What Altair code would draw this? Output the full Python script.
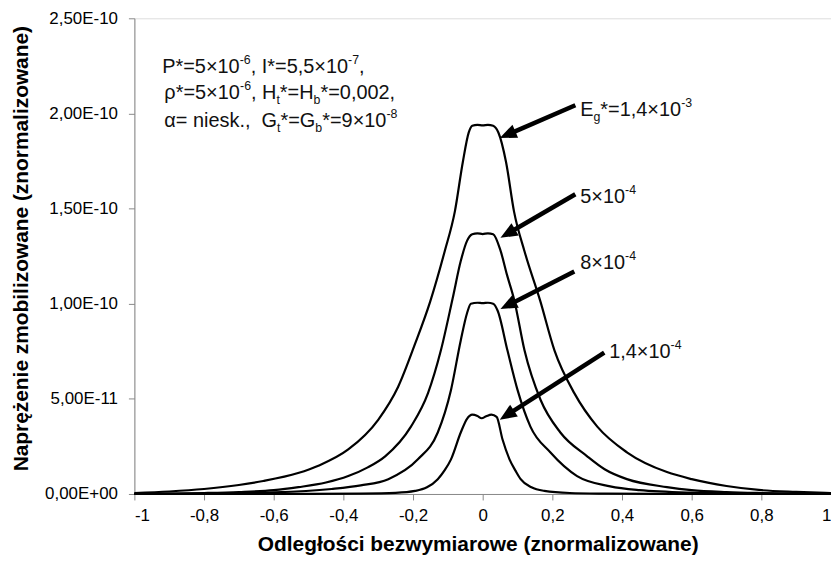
import math
import altair as alt
import pandas as pd

# ------------------------------------------------------------------
# Data (y values in units of 1e-10)
# ------------------------------------------------------------------
UNIT = 1e-10

A_x = [-1.0, -0.9, -0.8, -0.7, -0.63, -0.53, -0.47, -0.386, -0.3, -0.243, -0.194, -0.151,
       -0.109, -0.08, -0.057, -0.04, -0.03, -0.015, 0.0,
       0.015, 0.03, 0.045, 0.067, 0.09, 0.12, 0.165, 0.206, 0.263, 0.329, 0.414, 0.529,
       0.6, 0.7, 0.8, 0.9, 1.0]
A_y = [0.005, 0.013, 0.026, 0.047, 0.068, 0.11, 0.15, 0.234, 0.39, 0.5625, 0.79, 1.01,
       1.276, 1.484, 1.745, 1.90, 1.935, 1.94, 1.937,
       1.94, 1.935, 1.90, 1.745, 1.484, 1.276, 1.016, 0.755, 0.53, 0.354, 0.219, 0.115,
       0.078, 0.042, 0.02, 0.011, 0.005]

B_x = [-1.0, -0.8, -0.7, -0.6, -0.529, -0.45, -0.386, -0.33, -0.28, -0.206, -0.157, -0.12,
       -0.086, -0.063, -0.045, -0.03, -0.015, 0.0, 0.015, 0.03, 0.051, 0.07, 0.091, 0.12,
       0.166, 0.223, 0.3, 0.35, 0.414, 0.529, 0.6, 0.7, 0.8, 1.0]
B_y = [0.001, 0.005, 0.01, 0.02, 0.036, 0.06, 0.094, 0.14, 0.198, 0.354, 0.53, 0.755,
       1.03, 1.224, 1.33, 1.365, 1.37, 1.366, 1.37, 1.365, 1.28, 1.15, 1.016, 0.755,
       0.495, 0.323, 0.198, 0.13, 0.078, 0.036, 0.02, 0.01, 0.005, 0.001]

C_x = [-1.0, -0.8, -0.6, -0.434, -0.35, -0.271, -0.186, -0.129, -0.091, -0.063, -0.045,
       -0.034, -0.015, 0.0, 0.015, 0.03, 0.043, 0.071, 0.1, 0.137, 0.194, 0.271, 0.366,
       0.45, 0.6, 0.8, 1.0]
C_y = [0.0005, 0.002, 0.008, 0.026, 0.045, 0.078, 0.182, 0.323, 0.547, 0.807, 0.95,
       1.0, 1.005, 1.003, 1.005, 1.0, 0.963, 0.755, 0.547, 0.354, 0.219, 0.094, 0.04,
       0.02, 0.007, 0.002, 0.0005]

D_x = [-1.0, -0.5, -0.35, -0.25, -0.194, -0.16, -0.129, -0.109, -0.091, -0.063, -0.045,
       -0.03, -0.015, -0.003, 0.01, 0.025, 0.04, 0.057, 0.077, 0.095, 0.109, 0.14, 0.177,
       0.25, 0.35, 0.5, 1.0]
D_y = [0.0, 0.0005, 0.002, 0.006, 0.016, 0.035, 0.078, 0.125, 0.182, 0.323, 0.395,
       0.417, 0.41, 0.398, 0.408, 0.417, 0.405, 0.286, 0.182, 0.12, 0.078, 0.035, 0.016,
       0.005, 0.002, 0.0005, 0.0]

series_names = ["Eg=1,4e-3", "5e-4", "8e-4", "1,4e-4"]

# arrows (tail -> tip), y in units of 1e-10
arrow_tail_x = [0.266, 0.266, 0.263, 0.349]
arrow_tail_y = [2.043, 1.575, 1.169, 0.743]
arrow_tip_x = [0.049, 0.051, 0.051, 0.049]
arrow_tip_y = [1.871, 1.346, 0.972, 0.390]

# annotation texts: segments (text, kind); kind n=normal, sup, sub, skip=space
label_segments = [
    [("E", "n"), ("g", "sub"), ("*=1,4×10", "n"), ("-3", "sup")],
    [("5×10", "n"), ("-4", "sup")],
    [("8×10", "n"), ("-4", "sup")],
    [("1,4×10", "n"), ("-4", "sup")],
]
label_x = [0.28, 0.28, 0.28, 0.363]
label_y = [1.985, 1.528, 1.18, 0.717]

param_segments = [
    [("P*=5×10", "n"), ("-6", "sup"), (",", "n"), (" ", "skip"), ("I*=5,5×10", "n"),
     ("-7", "sup"), (",", "n")],
    [("ρ*=5×10", "n"), ("-6", "sup"), (",", "n"), (" ", "skip"), ("H", "n"), ("t", "sub"),
     ("*=H", "n"), ("b", "sub"), ("*=0,002,", "n")],
    [("α=", "n"), (" ", "skip"), ("niesk.,", "n"), ("  ", "skip"), ("G", "n"), ("t", "sub"),
     ("*=G", "n"), ("b", "sub"), ("*=9×10", "n"), ("-8", "sup")],
]
param_x = [-0.92, -0.914, -0.914]
param_y = [2.214, 2.074, 1.928]

x_ticks = [-1, -0.8, -0.6, -0.4, -0.2, 0, 0.2, 0.4, 0.6, 0.8, 1]
y_ticks = [0, 5e-11, 1e-10, 1.5e-10, 2e-10, 2.5e-10]

# ------------------------------------------------------------------
# Layout
# ------------------------------------------------------------------
FONT = "Liberation Sans"
PLOT_W, PLOT_H = 700, 478
X_DOM = [-1, 1]
Y_DOM = [0, 2.5e-10]
PX_X = PLOT_W / (X_DOM[1] - X_DOM[0])
PX_Y = PLOT_H / (Y_DOM[1] - Y_DOM[0])
TXT = 20
SMALL = 0.62 * TXT

ARIAL = {' ': 278, '*': 389, '=': 584, '×': 584, ',': 278, '.': 278, '-': 333,
         'P': 667, 'I': 278, 'H': 722, 'G': 778, 'E': 667, 'ρ': 578, 'α': 578,
         'n': 556, 'i': 222, 'e': 556, 's': 500, 'k': 500, 't': 278, 'b': 556, 'g': 556}


def text_w(s, size):
    return sum(ARIAL.get(c, 556) for c in s) / 1000.0 * size


def layout(segments, ax, ay):
    out = []
    off = 0.0
    for text, kind in segments:
        size = TXT if kind in ("n", "skip") else SMALL
        if kind != "skip":
            out.append({"x": ax + off / PX_X, "y": ay * UNIT, "t": text, "kind": kind})
        off += text_w(text, size)
    return out


txt_rows = []
for segs, ax, ay in zip(label_segments + param_segments,
                        label_x + param_x, label_y + param_y):
    txt_rows += layout(segs, ax, ay)
txt_df = pd.DataFrame(txt_rows)

rows = []
for name, xs, ys in zip(series_names, [A_x, B_x, C_x, D_x], [A_y, B_y, C_y, D_y]):
    for i, (x, y) in enumerate(zip(xs, ys)):
        rows.append({"series": name, "x": x, "y": y * UNIT, "i": i})
curves = pd.DataFrame(rows)

arr_rows = []
HEAD = 17
for tx, ty, hx, hy in zip(arrow_tail_x, arrow_tail_y, arrow_tip_x, arrow_tip_y):
    dxp = (hx - tx) * PX_X
    dyp = -(hy - ty) * UNIT * PX_Y
    length = math.hypot(dxp, dyp)
    frac = (length - HEAD * 0.8) / length
    ang = math.degrees(math.atan2(dxp, -dyp)) % 360
    arr_rows.append({
        "x0": tx, "y0": ty * UNIT,
        "x1": tx + (hx - tx) * frac, "y1": (ty + (hy - ty) * frac) * UNIT,
        "hx": hx, "hy": hy * UNIT, "ang": ang,
    })
arr_df = pd.DataFrame(arr_rows)

xscale = alt.Scale(domain=X_DOM, nice=False, zero=False)
yscale = alt.Scale(domain=Y_DOM, nice=False)

y_label_expr = (
    "datum.value == 0 ? '0,00E+00' : "
    "(datum.value * 10000000000 < 0.75 ? "
    "replace(format(datum.value * 100000000000, '.2f'), '.', ',') + 'E-11' : "
    "replace(format(datum.value * 10000000000, '.2f'), '.', ',') + 'E-10')"
)

lines = alt.Chart(curves).mark_line(
    interpolate="monotone", strokeWidth=2.2, color="black"
).encode(
    x=alt.X("x:Q", scale=xscale,
            axis=alt.Axis(values=x_ticks, labelExpr="replace(toString(datum.value), '.', ',')",
                          title="Odległości bezwymiarowe (znormalizowane)",
                          grid=False, tickSize=6, labelPadding=8, labelFontSize=17,
                          titleFontSize=21, titleFontWeight="bold", titleY=40,
                          titleX=345)),
    y=alt.Y("y:Q", scale=yscale,
            axis=alt.Axis(values=y_ticks, labelExpr=y_label_expr,
                          title="Naprężenie zmobilizowane (znormalizowane)",
                          grid=False, tickSize=6, labelPadding=11, labelFontSize=17,
                          titleFontSize=21, titleFontWeight="bold", titleX=-103,
                          titleY=231)),
    detail="series:N",
    order="i:Q",
)

arrows = alt.Chart(arr_df).mark_rule(strokeWidth=4.5, color="black").encode(
    x="x0:Q", y="y0:Q", x2="x1:Q", y2="y1:Q"
)

heads = alt.Chart(arr_df).mark_point(
    shape="M0,0L0.42,1L-0.42,1Z", filled=True, opacity=1, color="black",
    size=(2 * HEAD) ** 2, strokeWidth=0
).encode(
    x="hx:Q", y="hy:Q", angle=alt.Angle("ang:Q", scale=None)
)


def text_layer(kind, size, dy):
    return alt.Chart(txt_df).transform_filter(
        alt.datum.kind == kind
    ).mark_text(
        align="left", baseline="alphabetic", font=FONT, fontSize=size, dy=dy, color="#111"
    ).encode(x="x:Q", y="y:Q", text="t:N")


texts = (text_layer("n", TXT, 0) + text_layer("sup", SMALL, -0.45 * TXT)
         + text_layer("sub", SMALL, 0.25 * TXT))

chart = alt.layer(lines, arrows, heads, texts).properties(
    width=PLOT_W, height=PLOT_H,
    padding={"left": 127, "top": 9, "right": 0, "bottom": 63},
    autosize=alt.AutoSizeParams(type="none"),
).configure_view(
    stroke="black", strokeWidth=1.5
).configure_axis(
    domainColor="black", domainWidth=1.5, tickColor="black", tickWidth=1.5,
    labelColor="#111", titleColor="#111", labelFont=FONT, titleFont=FONT
).configure(background="white")

chart.save("out.html", embed_options={"renderer": "svg", "actions": False})
